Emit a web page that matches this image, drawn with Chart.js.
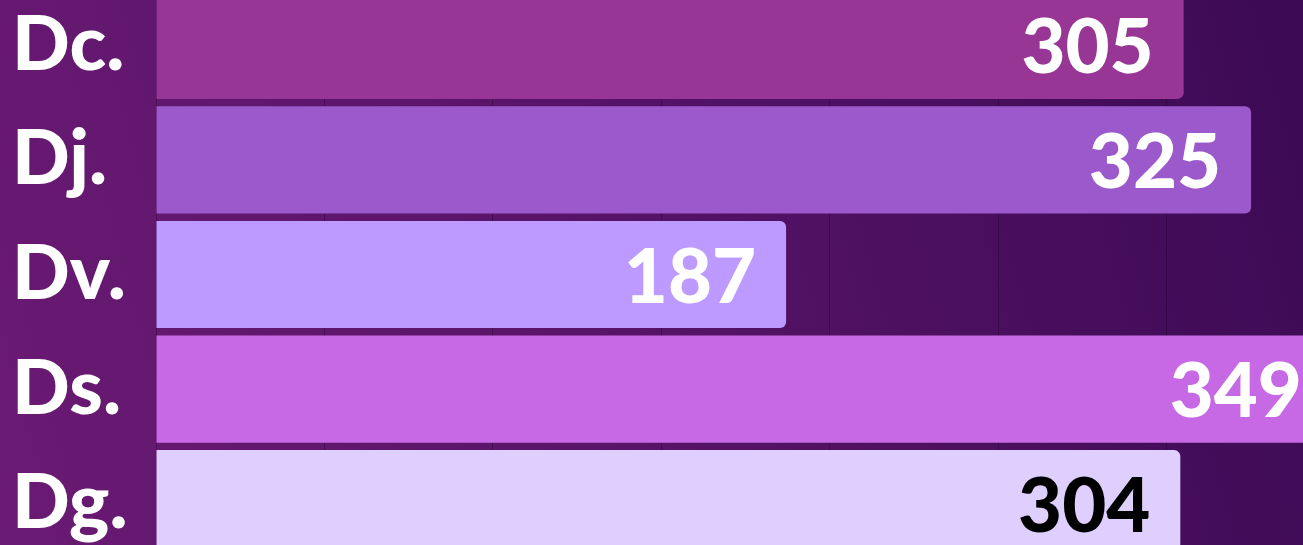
<!DOCTYPE html>
<html>
<head>
<meta charset="utf-8">
<script src="https://cdn.jsdelivr.net/npm/chart.js@4"></script>
<style>
  html, body { margin: 0; padding: 0; width: 1303px; height: 545px; overflow: hidden; }
  body { background: linear-gradient(75deg, #6a1a73 0%, #581468 45%, #3c0a55 100%); position: relative; }
  #wrap { position: absolute; left: 0; top: -12px; width: 1369px; height: 573px; }
</style>
</head>
<body>
<div id="wrap"><canvas id="c" width="1369" height="573"></canvas></div>
<script>
const categories = ['Dc.', 'Dj.', 'Dv.', 'Ds.', 'Dg.'];
const values = [305, 325, 187, 349, 304];
const barColors = ['#973695', '#9b59cb', '#bc9aff', '#c769e4', '#dfcfff'];
const labelColors = ['#ffffff', '#ffffff', '#ffffff', '#ffffff', '#000000'];

const valueLabels = {
  id: 'valueLabels',
  afterDatasetsDraw(chart) {
    const ctx = chart.ctx;
    const meta = chart.getDatasetMeta(0);
    ctx.save();
    ctx.font = '900 76px Lato';
    ctx.textAlign = 'right';
    ctx.textBaseline = 'alphabetic';
    meta.data.forEach((bar, i) => {
      ctx.fillStyle = labelColors[i];
      ctx.fillText(String(values[i]), bar.x - 30, bar.y + 28);
    });
    ctx.restore();
  }
};

new Chart(document.getElementById('c'), {
  type: 'bar',
  data: {
    labels: categories,
    datasets: [{
      data: values,
      backgroundColor: barColors,
      borderWidth: 0,
      borderRadius: { topRight: 6, bottomRight: 6 },
      borderSkipped: 'start',
      categoryPercentage: 1,
      barPercentage: 0.935
    }]
  },
  options: {
    indexAxis: 'y',
    responsive: false,
    animation: false,
    layout: { padding: { left: 12, right: 0, top: 0, bottom: 0 } },
    plugins: { legend: { display: false }, tooltip: { enabled: false } },
    scales: {
      x: {
        min: 0,
        max: 360,
        ticks: { display: false, stepSize: 50 },
        border: { display: false },
        grid: { color: 'rgba(30,0,40,0.35)', lineWidth: 1, drawTicks: false }
      },
      y: {
        afterFit(scale) {
          scale.width = 144;
          scale.paddingTop = 0;
          scale.paddingBottom = 0;
        },
        ticks: {
          crossAlign: 'far',
          color: '#ffffff',
          font: { family: 'Lato', weight: '900', size: 76 },
          padding: 0
        },
        border: { display: false },
        grid: { display: false }
      }
    }
  },
  plugins: [valueLabels]
});
</script>
</body>
</html>
